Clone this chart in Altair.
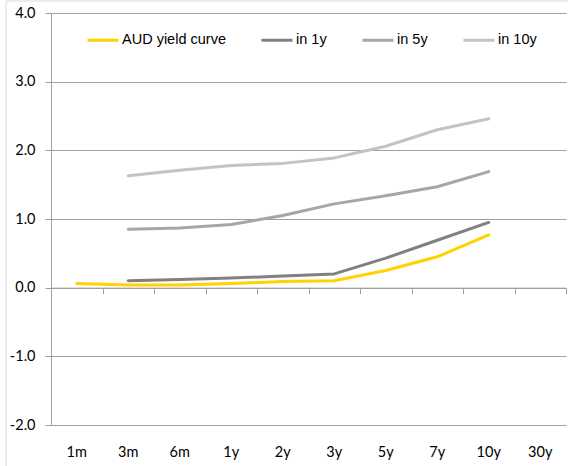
import altair as alt
import pandas as pd

# Tenors along the curve
tenors = ["1m", "3m", "6m", "1y", "2y", "3y", "5y", "7y", "10y", "30y"]

# Yields (%) today and implied forwards
aud_curve = [0.06, 0.04, 0.04, 0.06, 0.09, 0.10, 0.25, 0.45, 0.77, None]
in_1y = [None, 0.10, 0.12, 0.14, 0.17, 0.20, 0.43, 0.69, 0.95, None]
in_5y = [None, 0.85, 0.87, 0.92, 1.05, 1.22, 1.34, 1.47, 1.69, None]
in_10y = [None, 1.63, 1.71, 1.78, 1.81, 1.89, 2.06, 2.30, 2.46, None]

series_names = ["AUD yield curve", "in 1y", "in 5y", "in 10y"]
series_colors = ["#FFD200", "#808080", "#A6A6A6", "#C3C3C3"]
y_ticks = [-2, -1, 0, 1, 2, 3, 4]

rows = []
for name, vals in zip(series_names, [aud_curve, in_1y, in_5y, in_10y]):
    for t, v in zip(tenors, vals):
        if v is not None:
            rows.append({"tenor": t, "series": name, "yield": v})
df = pd.DataFrame(rows)

AXIS_FONT = "Lato"
LEGEND_FONT = "Liberation Sans Narrow, Arial Narrow, Liberation Sans"
GRID = "#A0A0A0"

W, H = 515, 412
Y_MIN, Y_MAX = -2, 4
zero_offset = -H * (0 - Y_MIN) / (Y_MAX - Y_MIN)

x_scale = alt.Scale(domain=tenors, type="band", paddingInner=0, paddingOuter=0)
y_scale = alt.Scale(domain=[Y_MIN, Y_MAX], nice=False, zero=False)

y_enc = alt.Y(
    "yield:Q",
    scale=y_scale,
    axis=alt.Axis(
        orient="left",
        values=y_ticks, format=".1f", title=None,
        labelExpr="replace(datum.label, '\u2212', '-')",
        grid=True, gridColor=GRID, gridWidth=1,
        domainColor=GRID, tickColor=GRID, tickSize=6,
        labelFont=AXIS_FONT, labelFontSize=14.5, labelColor="#000000",
        labelPadding=10,
    ),
)

lines = alt.Chart(df).mark_line(strokeWidth=3, strokeCap="round", strokeJoin="round").encode(
    x=alt.X(
        "tenor:N", scale=x_scale, bandPosition=0.5,
        axis=alt.Axis(
            orient="bottom",
            title=None, labelAngle=0, domain=False, ticks=False, grid=False,
            labelFont=AXIS_FONT, labelFontSize=14.5, labelColor="#000000",
            labelPadding=20,
        ),
    ),
    y=y_enc,
    color=alt.Color(
        "series:N",
        scale=alt.Scale(domain=series_names, range=series_colors),
        legend=alt.Legend(
            title=None, orient="none", direction="horizontal",
            legendX=35, legendY=10,
            symbolType="stroke", symbolSize=961, symbolStrokeWidth=3,
            labelFont=LEGEND_FONT, labelFontSize=14.5, labelColor="#000000",
            labelOffset=2, columnPadding=29, labelLimit=300,
        ),
    ),
    order=alt.Order("series:N"),
)

# Category axis drawn along the zero line, with tick marks between tenors
zero_axis = alt.Chart(df).mark_point(opacity=0).encode(
    x=alt.X(
        "tenor:N", scale=x_scale, bandPosition=0.5,
        axis=alt.Axis(
            orient="bottom",
            title=None, labels=False, grid=False, offset=zero_offset,
            domain=True, domainColor=GRID, domainWidth=1,
            ticks=True, tickBand="extent", tickColor=GRID, tickSize=6,
        ),
    ),
    y=y_enc,
)

# Light frame around the chart area
frame = alt.Chart(pd.DataFrame({"k": [0]})).mark_rect(
    fill="white", fillOpacity=0, stroke="#D9D9D9", strokeWidth=1
).encode(
    x=alt.value(-45), x2=alt.value(W + 60),
    y=alt.value(-12), y2=alt.value(H + 80),
)

chart = alt.layer(frame, zero_axis, lines).resolve_axis(x="independent").properties(
    width=W, height=H,
    autosize=alt.AutoSizeParams(type="none"),
    padding={"left": 51, "top": 13, "right": 2, "bottom": 41},
    background="white",
).configure_view(stroke=None)

chart.save("out.html", embed_options={"renderer": "svg", "actions": False})
